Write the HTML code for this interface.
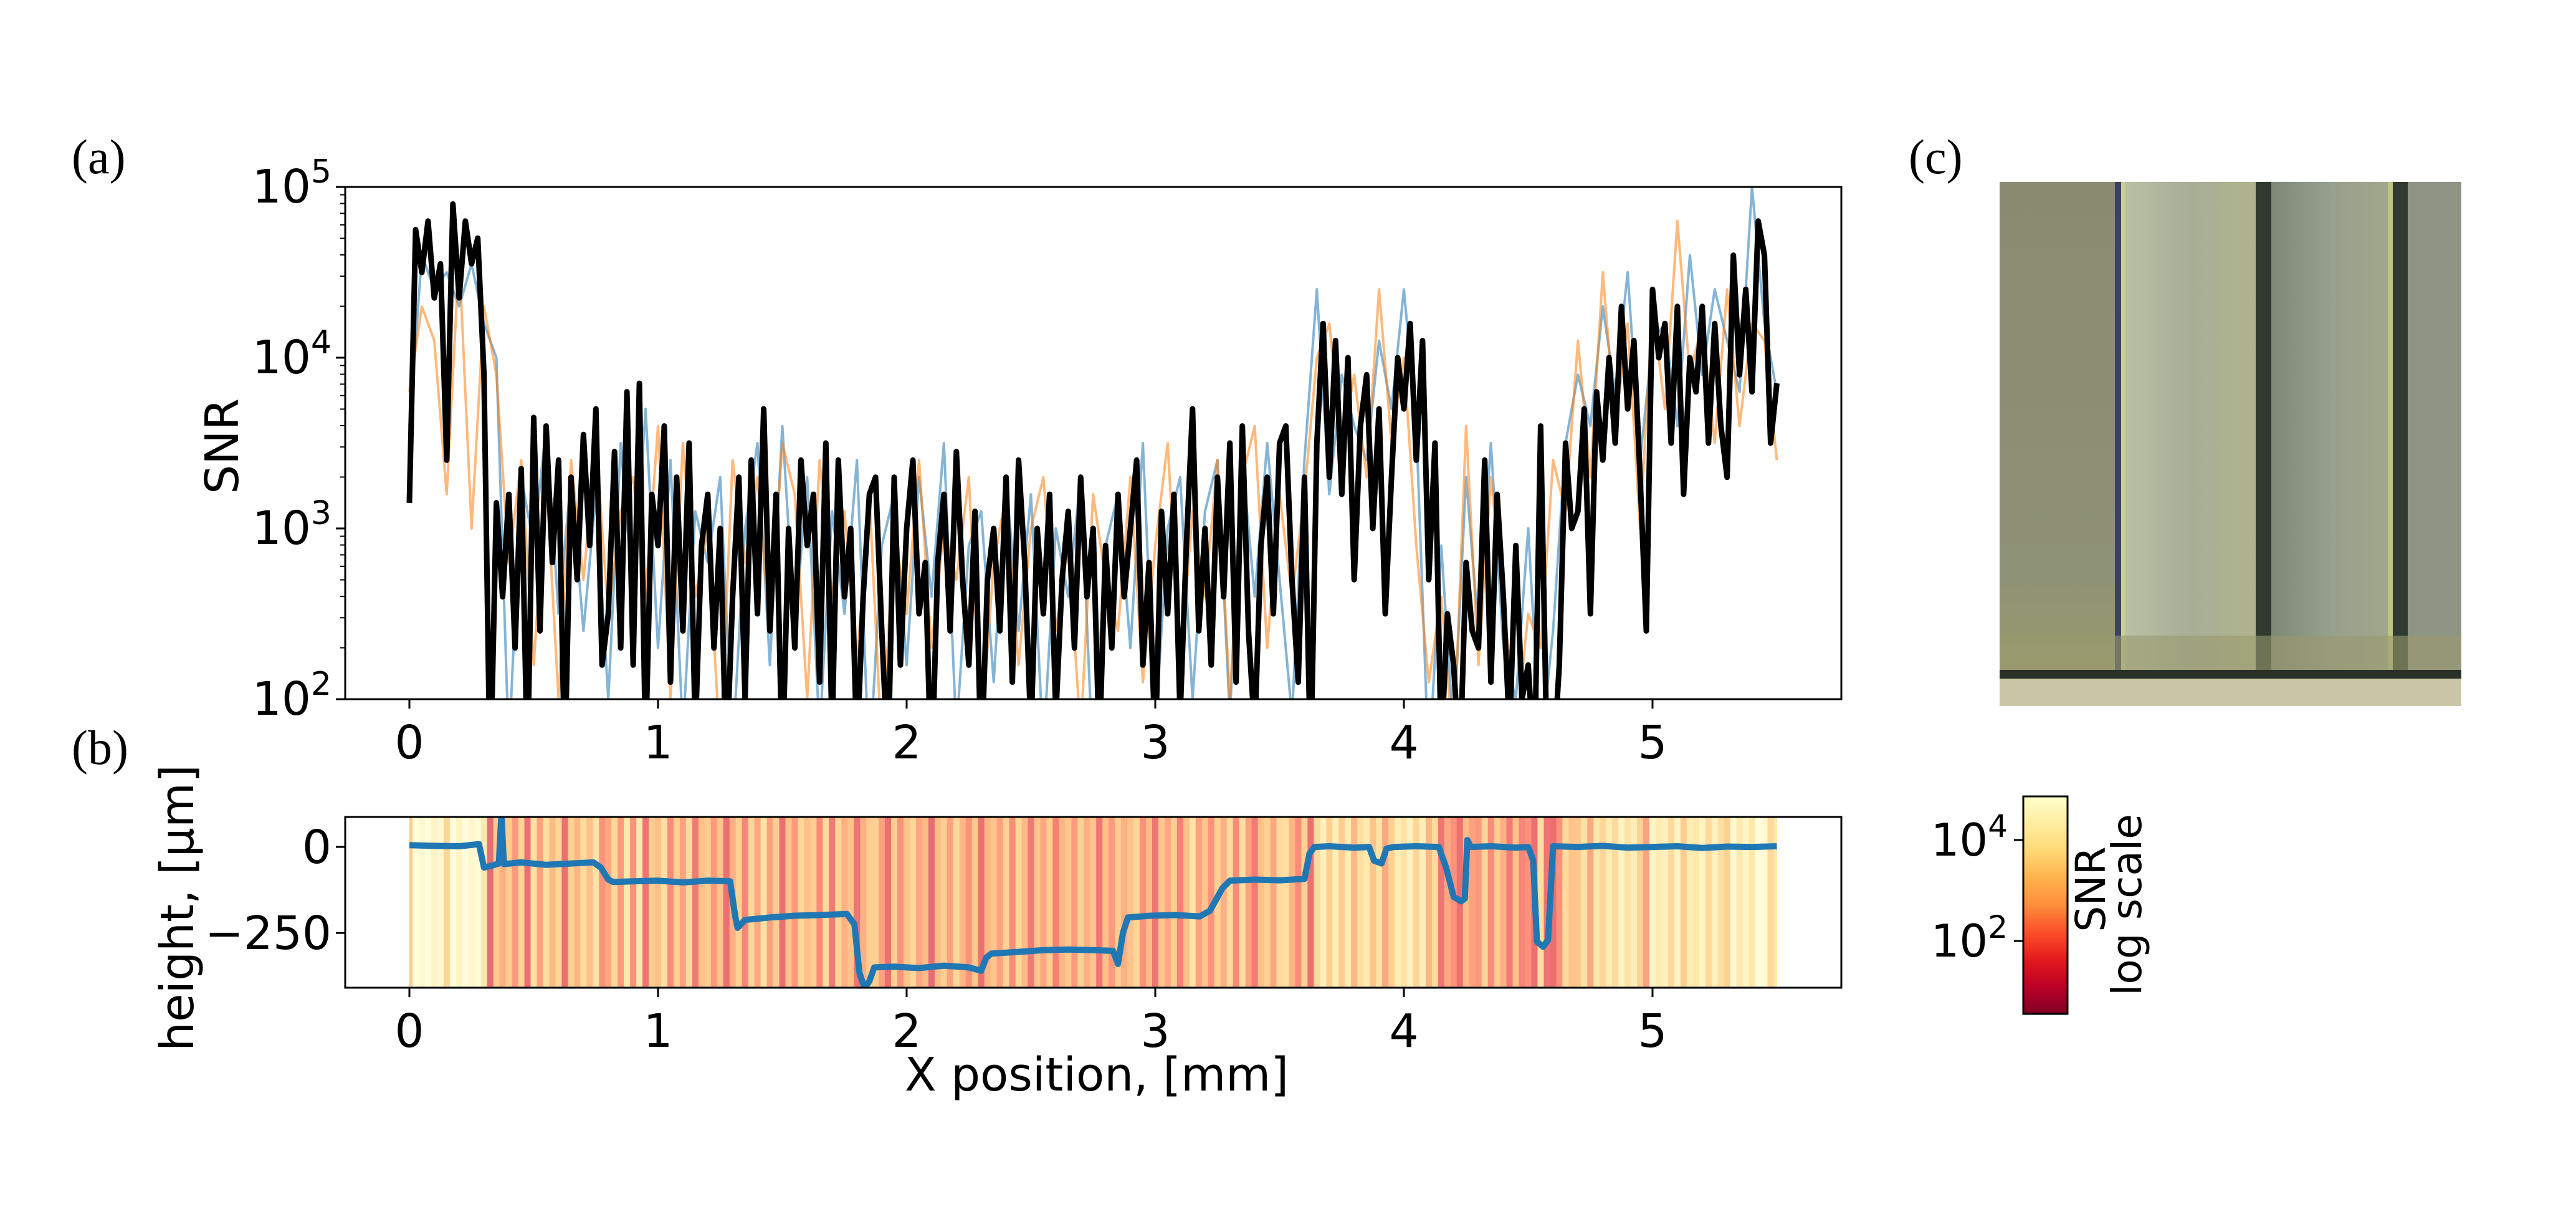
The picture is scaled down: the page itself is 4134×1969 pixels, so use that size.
<!DOCTYPE html>
<html><head><meta charset="utf-8"><style>
html,body{margin:0;padding:0;background:#fff}
svg{display:block}
text{font-family:"DejaVu Sans","Liberation Sans",sans-serif;fill:#000}
.serif{font-family:"Liberation Serif",serif}
</style></head><body>
<svg id="fig" width="4134" height="1969" viewBox="0 0 4134 1969" xmlns="http://www.w3.org/2000/svg">
<defs>
<clipPath id="clipA"><rect x="554" y="300" width="2401" height="822"/></clipPath>
<clipPath id="clipB"><rect x="554" y="1311" width="2401" height="274"/></clipPath>
<linearGradient id="cbar" x1="0" y1="1" x2="0" y2="0">
<stop offset="0" stop-color="#800026"/><stop offset="0.125" stop-color="#bd0026"/><stop offset="0.25" stop-color="#e31a1c"/><stop offset="0.375" stop-color="#fc4e2a"/><stop offset="0.5" stop-color="#fd8d3c"/><stop offset="0.625" stop-color="#feb24c"/><stop offset="0.75" stop-color="#fed976"/><stop offset="0.875" stop-color="#ffeda0"/><stop offset="1" stop-color="#ffffcc"/>
</linearGradient>
<linearGradient id="s1" x1="0" y1="0" x2="0" y2="1"><stop offset="0" stop-color="#8a8a70"/><stop offset="0.8" stop-color="#8e9276"/><stop offset="1" stop-color="#9a9a6c"/></linearGradient>
<linearGradient id="s2" x1="0" y1="0" x2="1" y2="0"><stop offset="0" stop-color="#b8c0a4"/><stop offset="0.5" stop-color="#a7ae96"/><stop offset="1" stop-color="#b0b48c"/></linearGradient>
<linearGradient id="s3" x1="0" y1="0" x2="1" y2="0"><stop offset="0" stop-color="#7f8777"/><stop offset="0.5" stop-color="#98a08e"/><stop offset="1" stop-color="#a2a88c"/></linearGradient>
</defs>

<text class="serif" x="115" y="278" font-size="78">(a)</text>
<text class="serif" x="115" y="1226" font-size="78">(b)</text>
<text class="serif" x="3063" y="278" font-size="78">(c)</text>

<g id="axA"></g>
<g id="axB"></g>

<g>
<rect x="3209" y="292" width="741" height="841" fill="#8f9278"/>
<rect x="3209" y="292" width="185" height="790" fill="url(#s1)"/>
<rect x="3394" y="292" width="14" height="790" fill="#3a4260"/>
<rect x="3404" y="292" width="6" height="790" fill="#c8d090"/>
<rect x="3410" y="292" width="210" height="790" fill="url(#s2)"/>
<rect x="3620" y="292" width="25" height="790" fill="#2f3a30"/>
<rect x="3645" y="292" width="195" height="790" fill="url(#s3)"/>
<rect x="3832" y="292" width="8" height="790" fill="#c0c480"/>
<rect x="3840" y="292" width="24" height="790" fill="#303a30"/>
<rect x="3864" y="292" width="86" height="790" fill="#8e9484"/>
<rect x="3209" y="1020" width="741" height="55" fill="#9a9a6e" opacity="0.6"/>
<rect x="3209" y="1075" width="741" height="14" fill="#2a3028"/>
<rect x="3209" y="1089" width="741" height="44" fill="#c8c6a6"/>
</g>

<g>
<rect x="3247" y="1278" width="71" height="349" fill="url(#cbar)" stroke="#000" stroke-width="3"/>
<line x1="3232" y1="1348" x2="3247" y2="1348" stroke="#000" stroke-width="3"/>
<line x1="3232" y1="1510" x2="3247" y2="1510" stroke="#000" stroke-width="3"/>
<text x="3222" y="1373" font-size="72" text-anchor="end">10<tspan dy="-30" font-size="50">4</tspan></text>
<text x="3222" y="1535" font-size="72" text-anchor="end">10<tspan dy="-30" font-size="50">2</tspan></text>
<text transform="translate(3378,1427) rotate(-90)" font-size="66" text-anchor="middle">SNR</text>
<text transform="translate(3436,1452) rotate(-90)" font-size="66" text-anchor="middle">log scale</text>
</g>
</svg>
<script>
// ---- Panel (a) data: log10(SNR) ----
const snrBlackLog = [3.15,4.75,4.5,4.8,4.35,4.55,3.4,4.9,4.35,4.8,4.55,4.7,
3.9,1.5,3.15,2.6,3.2,2.3,3.35,1.6,3.65,2.4,3.6,2.8,
3.4,1.6,3.3,2.7,3.55,2.9,3.7,2.2,2.5,3.45,2.3,3.8,
2.2,3.85,1.7,3.2,2.9,3.6,2.1,3.3,2.4,3.5,1.8,2.9,
3.2,2.3,3.0,1.6,2.6,3.3,2.0,3.4,2.5,3.7,2.4,3.2,
1.6,3.0,2.3,3.4,2.9,3.2,2.1,3.5,1.8,3.4,2.6,3.0,
1.7,2.6,3.2,3.3,2.4,1.6,3.3,2.2,3.0,3.4,2.5,2.8,
1.5,2.8,3.2,2.4,3.45,2.7,2.2,3.1,1.6,2.7,3.0,2.4,
3.3,2.1,3.4,2.8,1.8,3.0,2.5,3.2,1.9,2.7,3.1,2.3,
3.3,2.6,3.0,1.7,2.9,2.3,3.2,2.6,3.0,3.4,2.2,2.8,
1.7,3.1,2.5,3.2,1.9,2.9,3.7,2.4,3.0,2.2,3.3,2.6,
3.5,2.1,3.6,2.4,1.8,2.9,3.3,2.5,3.5,3.6,2.7,2.1,
3.3,1.6,3.5,4.2,3.3,4.1,3.2,4.0,2.7,3.6,3.9,3.0,
3.7,2.5,3.3,4.0,3.7,4.2,3.4,4.1,2.7,3.5,1.7,2.5,
2.2,1.6,2.8,2.4,2.3,3.4,2.1,3.2,2.6,1.8,2.9,2.0,
2.2,1.6,3.6,1.7,1.6,2.2,3.5,3.0,3.1,3.7,2.5,3.8,
3.4,4.0,3.5,4.3,3.7,4.1,3.3,2.4,4.4,4.0,4.2,3.5,
4.3,3.2,4.0,3.8,4.3,3.5,4.2,3.6,3.3,4.6,3.9,4.4,
3.8,4.8,4.6,3.5,3.85];
const snrBlueLog = [3.6,4.6,4.4,4.5,4.3,4.55,4.2,4.0,1.7,3.3,2.9,
3.6,2.5,3.3,2.4,3.2,2.0,3.5,2.6,3.7,2.3,
3.4,1.8,3.1,2.8,3.3,1.7,3.0,3.5,2.2,3.6,
2.4,3.3,1.8,3.1,2.5,3.4,1.6,2.9,3.2,2.2,
3.3,2.6,3.5,1.8,2.9,3.1,2.1,3.3,2.4,3.2,
1.7,3.0,2.6,3.3,1.6,2.9,3.2,2.3,3.5,1.8,
3.0,3.3,2.0,3.1,3.4,1.9,3.4,2.6,3.5,2.7,
1.9,3.4,4.4,3.2,3.9,3.6,3.4,4.1,3.7,4.4,
3.6,1.6,2.9,1.8,3.3,2.4,3.5,2.3,2.0,3.0,
1.7,2.4,3.5,3.9,3.6,4.3,3.8,4.5,3.4,4.1,
4.2,3.6,4.6,3.9,4.4,4.1,3.8,5.0,4.2,3.8];
const snrOrangeLog = [3.8,4.3,4.1,3.2,4.6,3.0,4.3,3.9,2.8,3.4,2.2,
3.3,2.0,3.4,2.7,3.5,2.5,3.1,3.3,2.6,3.6,
2.0,3.5,2.6,3.0,1.7,3.4,2.8,3.3,2.4,3.5,
3.2,2.0,3.4,2.6,3.1,2.2,3.2,1.7,3.0,2.5,
3.4,2.3,3.0,2.7,3.3,1.8,2.8,3.2,2.2,3.0,
3.3,2.4,2.9,1.8,3.2,2.7,2.4,3.3,2.1,2.9,
3.5,2.2,3.1,2.6,3.4,2.0,3.3,3.6,2.3,3.2,
2.6,3.2,4.0,4.2,3.5,3.9,3.3,4.4,3.5,4.0,
2.9,2.1,2.6,1.7,3.6,2.2,3.3,2.6,1.8,2.5,
2.3,3.4,3.1,4.1,3.3,4.5,3.6,4.2,3.0,4.3,
3.7,4.8,3.9,4.2,3.5,4.4,3.6,4.2,4.1,3.4];
const xTicks = [0,1,2,3,4,5];
const xTickLabels = ["0","1","2","3","4","5"];
const yDecades = [2,3,4,5];
const xMax = 5.5;
// ---- Panel (b) data: height profile [x mm, height µm] ----
const heightX = [0,0.1,0.2,0.28,0.3,0.33,0.36,0.37,0.38,0.45,0.55,0.65,0.74,0.77,0.8,0.82,0.9,1.0,1.1,1.2,1.29,1.31,1.32,1.35,1.45,1.55,1.65,1.76,1.79,1.81,1.83,1.85,1.87,1.95,2.05,2.15,2.25,2.3,2.32,2.34,2.45,2.55,2.65,2.75,2.83,2.85,2.87,2.89,2.98,3.08,3.18,3.22,3.27,3.3,3.4,3.5,3.6,3.62,3.64,3.7,3.8,3.86,3.88,3.91,3.93,3.96,4.05,4.14,4.17,4.2,4.23,4.245,4.255,4.27,4.35,4.45,4.5,4.52,4.535,4.56,4.58,4.6,4.7,4.8,4.9,5.0,5.1,5.2,5.3,5.4,5.5];
const heightVals = [5,3,2,8,-60,-55,-48,95,-50,-45,-52,-48,-45,-60,-95,-102,-100,-98,-103,-98,-100,-200,-235,-212,-205,-200,-198,-195,-225,-365,-410,-390,-350,-348,-352,-345,-350,-360,-322,-310,-305,-300,-298,-300,-302,-340,-250,-205,-200,-198,-202,-185,-120,-98,-95,-97,-93,-20,0,2,-2,0,-40,-48,-5,0,2,0,-60,-145,-158,-150,20,0,2,-2,0,-40,-275,-290,-270,2,0,3,-2,0,2,-3,1,0,2];
const heightTicks = [0,-250];
const heightTickLabels = ["0","\u2212250"];
const cbarMin = 0.56, cbarMax = 4.86;

// ---- scales ----
const AX = {l:554, r:2955, t:300, b:1122};
const BX = {l:554, r:2955, t:1311, b:1585};
const x0px = 657, unitPx = 399;
function sx(v){ return x0px + v*unitPx; }
function syA(lg){ return AX.b - (lg-2)/(5-2)*(AX.b-AX.t); }
const hTop = 87, hBot = -409;
function syB(h){ return BX.t + (hTop-h)/(hTop-hBot)*(BX.b-BX.t); }
const NS = "http://www.w3.org/2000/svg";
function mk(tag, attrs, parent){ const e=document.createElementNS(NS,tag); for(const k in attrs) e.setAttribute(k,attrs[k]); parent.appendChild(e); return e; }
const stops = ["#ffffcc","#ffeda0","#fed976","#feb24c","#fd8d3c","#fc4e2a","#e31a1c","#bd0026","#800026"];
function hex(c){ return [parseInt(c.substr(1,2),16),parseInt(c.substr(3,2),16),parseInt(c.substr(5,2),16)]; }
function cmap(lg){
  let t = 1 - (lg - cbarMin)/(cbarMax - cbarMin); t=Math.max(0,Math.min(1,t));
  const p=t*(stops.length-1), i=Math.min(stops.length-2,Math.floor(p)), f=p-i;
  const a=hex(stops[i]), b=hex(stops[i+1]);
  return "rgb("+a.map((v,k)=>Math.round(v+(b[k]-v)*f)).join(",")+")";
}

// ---- Panel A ----
const gA = document.getElementById('axA');
function seriesPath(arr){
  const n=arr.length; let d="";
  arr.forEach((v,i)=>{ const x=sx(i*xMax/(n-1)); d+=(i?"L":"M")+x.toFixed(1)+","+syA(v).toFixed(1); });
  return d;
}
const clipGA = mk('g',{'clip-path':'url(#clipA)'},gA);
const pb = mk('path',{d:seriesPath(snrBlueLog),fill:'none',stroke:'#1f77b4','stroke-width':4,'stroke-opacity':0.55,'stroke-linejoin':'round'},clipGA);


const po = mk('path',{d:seriesPath(snrOrangeLog),fill:'none',stroke:'#ff7f0e','stroke-width':4,'stroke-opacity':0.55,'stroke-linejoin':'round'},clipGA);


const pk = mk('path',{d:seriesPath(snrBlackLog),fill:'none',stroke:'#000','stroke-width':9,'stroke-linejoin':'round'},clipGA);


const frA = mk('rect',{x:AX.l,y:AX.t,width:AX.r-AX.l,height:AX.b-AX.t,fill:'none',stroke:'#000','stroke-width':3},gA);


yDecades.forEach(dc=>{
  const y=syA(dc);
  mk('line',{x1:AX.l-15,y1:y,x2:AX.l,y2:y,stroke:'#000','stroke-width':3},gA);
  const t=mk('text',{x:AX.l-22,y:y+25,'font-size':74,'text-anchor':'end'},gA);
  
  
  t.innerHTML='10<tspan dy="-32" font-size="52">'+dc+'</tspan>';
  if(dc<5){ for(let m=2;m<=9;m++){ const ym=syA(dc+Math.log10(m)); mk('line',{x1:AX.l-8,y1:ym,x2:AX.l,y2:ym,stroke:'#000','stroke-width':2},gA);} }
});
xTicks.forEach((v,i)=>{
  const x=sx(v);
  mk('line',{x1:x,y1:AX.b,x2:x,y2:AX.b+15,stroke:'#000','stroke-width':3},gA);
  const t=mk('text',{x:x,y:AX.b+95,'font-size':74,'text-anchor':'middle'},gA);
  
  
  t.textContent=xTickLabels[i];
});
const yl=mk('text',{transform:'translate(382,716) rotate(-90)','font-size':74,'text-anchor':'middle'},gA);


yl.textContent='SNR';

// ---- Panel B ----
const gB = document.getElementById('axB');
const clipGB = mk('g',{'clip-path':'url(#clipB)'},gB);
const heat = mk('g',{opacity:0.62},clipGB);


const nB=snrBlackLog.length, w=xMax/(nB-1);
snrBlackLog.forEach((v,i)=>{
  const xa=sx(Math.max(0,i*w-w/2)), xb=sx(Math.min(xMax,i*w+w/2));
  const r=mk('rect',{x:xa,y:BX.t,width:xb-xa+0.5,height:BX.b-BX.t,fill:cmap(v)},heat);
  
  
});
let dh="";
heightX.forEach((x,i)=>{ dh+=(i?"L":"M")+sx(x).toFixed(1)+","+syB(heightVals[i]).toFixed(1); });
const ph=mk('path',{d:dh,fill:'none',stroke:'#1f77b4','stroke-width':10,'stroke-linejoin':'round'},clipGB);


const frB = mk('rect',{x:BX.l,y:BX.t,width:BX.r-BX.l,height:BX.b-BX.t,fill:'none',stroke:'#000','stroke-width':3},gB);


heightTicks.forEach((v,i)=>{
  const y=syB(v);
  mk('line',{x1:BX.l-15,y1:y,x2:BX.l,y2:y,stroke:'#000','stroke-width':3},gB);
  const t=mk('text',{x:BX.l-22,y:y+26,'font-size':74,'text-anchor':'end'},gB);
  
  
  t.textContent=heightTickLabels[i];
});
xTicks.forEach((v,i)=>{
  const x=sx(v);
  mk('line',{x1:x,y1:BX.b,x2:x,y2:BX.b+15,stroke:'#000','stroke-width':3},gB);
  const t=mk('text',{x:x,y:BX.b+95,'font-size':74,'text-anchor':'middle'},gB);
  
  
  t.textContent=xTickLabels[i];
});
const hl=mk('text',{transform:'translate(310,1457) rotate(-90)','font-size':74,'text-anchor':'middle'},gB);


hl.textContent='height, [\u00b5m]';
const xl=mk('text',{x:1760,y:1750,'font-size':74,'text-anchor':'middle'},gB);


xl.textContent='X position, [mm]';
</script>
</body></html>
